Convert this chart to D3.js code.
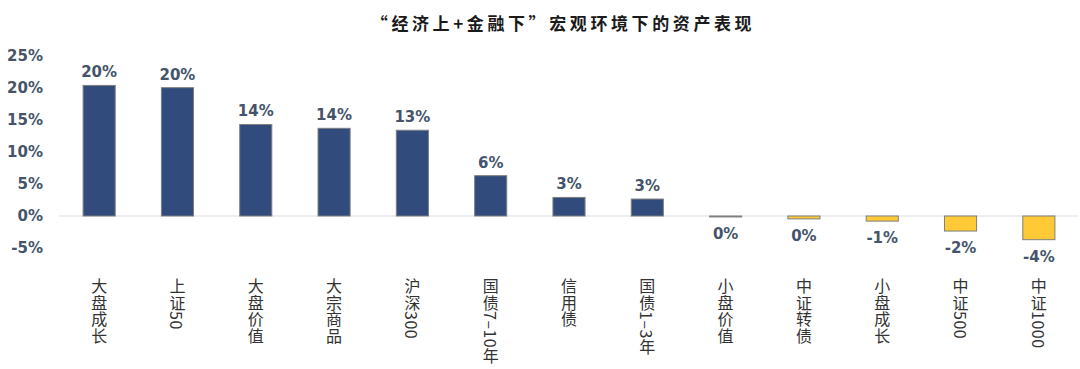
<!DOCTYPE html>
<html>
<head>
<meta charset="utf-8">
<script src="https://cdn.jsdelivr.net/npm/d3@7"></script>
<style>
  html, body { margin: 0; padding: 0; background: #fff; }
  svg { display: block; }
</style>
</head>
<body>
<svg id="chart"></svg>
<script>
const categories = ["大盘成长", "上证50", "大盘价值", "大宗商品", "沪深300", "国债7–10年", "信用债",
  "国债1–3年", "小盘价值", "中证转债", "小盘成长", "中证500", "中证1000"]
const returns = [20.4, 20.05, 14.3, 13.7, 13.4, 6.3, 2.9, 2.65, -0.15, -0.45, -0.8, -2.35, -3.7]
const yTicks = [-5, 0, 5, 10, 15, 20, 25]
const title = "“经济上+金融下”宏观环境下的资产表现"

const width = 1080, height = 369
const svg = d3.select("#chart").attr("width", width).attr("height", height)

const data = categories.map((c, i) => ({ name: c, value: returns[i] }))

const x = d3.scaleBand()
  .domain(categories)
  .range([60, 1078])
  .paddingInner(0.59)
  .paddingOuter(0.295)

const y = d3.scaleLinear().domain([-5, 25]).range([248, 56])

const labelColor = "#44546a"

// title
svg.append("text")
  .attr("x", 563)
  .attr("y", 30)
  .attr("text-anchor", "middle")
  .attr("font-family", "'Noto Sans CJK SC', sans-serif")
  .attr("font-size", 17)
  .attr("font-weight", "bold")
  .attr("letter-spacing", 3.6)
  .attr("fill", "#1a1a1a")
  .text(title)

// y axis labels (no line)
svg.append("g")
  .selectAll("text")
  .data(yTicks)
  .enter()
  .append("text")
  .attr("x", 43)
  .attr("y", (d) => y(d))
  .attr("dy", "0.36em")
  .attr("text-anchor", "end")
  .attr("font-family", "'DejaVu Sans', Verdana, sans-serif")
  .attr("font-size", 15)
  .attr("font-weight", "bold")
  .attr("fill", labelColor)
  .text((d) => d + "%")

// zero line
svg.append("line")
  .attr("x1", 59)
  .attr("x2", 1078)
  .attr("y1", y(0))
  .attr("y2", y(0))
  .attr("stroke", "#d9dee8")
  .attr("stroke-width", 1)

// bars
svg.append("g")
  .selectAll("rect")
  .data(data)
  .enter()
  .append("rect")
  .attr("x", (d) => x(d.name))
  .attr("width", x.bandwidth())
  .attr("y", (d) => y(Math.max(0, d.value)))
  .attr("height", (d) => Math.abs(y(d.value) - y(0)))
  .attr("fill", (d) => (d.value >= 0 ? "#314b7d" : "#ffca35"))
  .attr("stroke", "#7f7f7f")
  .attr("stroke-width", 1)

// value labels
svg.append("g")
  .selectAll("text")
  .data(data)
  .enter()
  .append("text")
  .attr("x", (d) => x(d.name) + x.bandwidth() / 2)
  .attr("y", (d) => (d.value >= 0 ? y(d.value) - 8 : y(d.value) + 22))
  .attr("text-anchor", "middle")
  .attr("font-family", "'DejaVu Sans', Verdana, sans-serif")
  .attr("font-size", 15)
  .attr("font-weight", "bold")
  .attr("fill", labelColor)
  .text((d) => `${Math.round(d.value)}%`)

// category labels, vertical
svg.append("g")
  .selectAll("text")
  .data(categories)
  .enter()
  .append("text")
  .attr("x", (d) => x(d) + x.bandwidth() / 2)
  .attr("y", 278)
  .style("writing-mode", "vertical-rl")
  .attr("font-family", "'Noto Sans CJK SC', sans-serif")
  .attr("font-size", 16)
  .attr("letter-spacing", 0.5)
  .attr("fill", "#333333")
  .text((d) => d)
</script>
</body>
</html>
